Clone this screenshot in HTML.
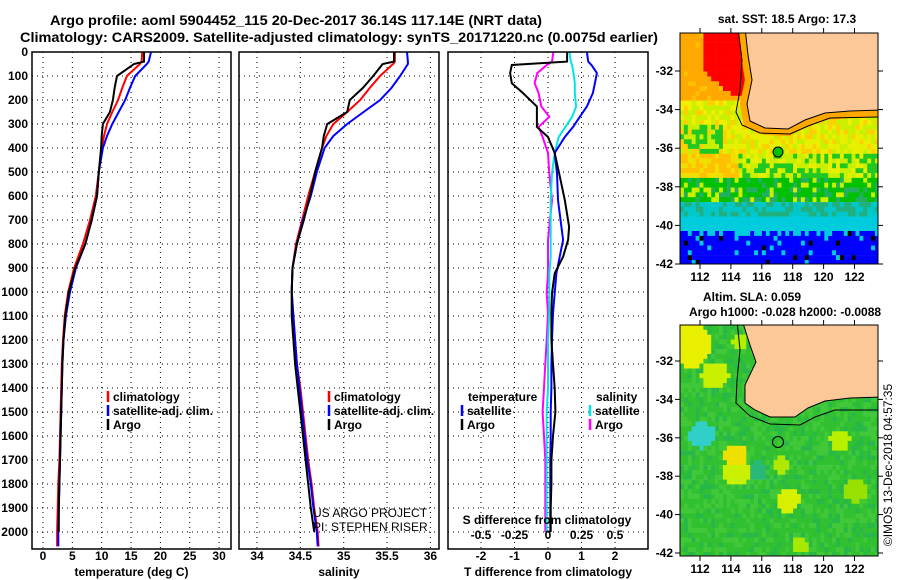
<!DOCTYPE html>
<html><head><meta charset="utf-8">
<style>
html,body{margin:0;padding:0;background:#fff;}
svg{display:block;font-family:"Liberation Sans",Arial,sans-serif;font-weight:bold;}
</style></head>
<body>
<svg id="fig" width="900" height="580" viewBox="0 0 900 580">
<defs>
<clipPath id="c1"><rect x="32" y="52" width="199" height="497"/></clipPath>
<clipPath id="c2"><rect x="239" y="52" width="200" height="497"/></clipPath>
<clipPath id="c3"><rect x="448" y="52" width="200" height="497"/></clipPath>
<clipPath id="cm1"><rect x="680" y="33" width="198" height="231"/></clipPath>
<clipPath id="cm2"><rect x="680" y="325" width="198" height="231"/></clipPath>
</defs>
<text x="296" y="25" font-size="14" text-anchor="middle" textLength="492" lengthAdjust="spacingAndGlyphs">Argo profile: aoml 5904452_115 20-Dec-2017 36.14S 117.14E (NRT data)</text>
<text x="339" y="42" font-size="14" text-anchor="middle" textLength="638" lengthAdjust="spacingAndGlyphs">Climatology: CARS2009. Satellite-adjusted climatology: synTS_20171220.nc (0.0075d earlier)</text>
<g id="panels"></g>
<g id="maps"></g>
<text transform="translate(892,465) rotate(-90)" font-size="12" font-weight="normal" text-anchor="middle">©IMOS 13-Dec-2018 04:57:35</text>
</svg>
<script>
// ---------- data ----------
const depths = [0,40,50,100,150,200,250,300,350,400,500,600,700,800,900,1000,1100,1200,1300,1400,1500,1600,1700,1800,1900,2000,2060];
const tempArgo = [17.2,17.2,15.5,12.6,12.2,11.9,11.4,10.2,10.0,9.9,9.5,9.2,8.3,7.2,5.5,4.4,3.8,3.5,3.3,3.2,3.1,3.0,2.9,2.8,2.7,2.7,2.6];
const tempClim = [16.9,16.8,16.5,14.3,13.5,12.8,11.8,10.9,10.4,10.0,9.5,9.0,8.0,6.8,5.3,4.3,3.7,3.4,3.2,3.1,3.0,2.9,2.8,2.6,2.5,2.4,2.4];
const tempSat = [18.4,18.0,17.7,15.7,14.8,14.0,12.9,11.8,10.9,10.2,9.5,9.2,8.3,7.2,5.6,4.6,3.9,3.5,3.3,3.2,3.1,3.0,2.9,2.8,2.7,2.6,2.6];
const salArgo = [35.58,35.58,35.45,35.34,35.22,35.07,35.04,34.81,34.77,34.75,34.67,34.61,34.54,34.46,34.41,34.40,34.40,34.42,34.44,34.47,34.50,34.53,34.56,34.59,34.62,34.66,34.68];
const salClim = [35.59,35.59,35.57,35.42,35.30,35.19,35.04,34.88,34.80,34.75,34.67,34.59,34.52,34.45,34.41,34.40,34.42,34.44,34.46,34.50,34.53,34.56,34.59,34.63,34.66,34.70,34.71];
const salSat = [35.73,35.74,35.74,35.65,35.55,35.42,35.23,35.04,34.88,34.78,34.69,34.62,34.53,34.46,34.41,34.40,34.42,34.44,34.46,34.49,34.52,34.55,34.58,34.62,34.65,34.69,34.70];
const diffDepths = [0,40,54,88,130,171,227,270,312,354,421,505,617,728,783,853,922,1005,1088,1200,1300,1400,1500,1600,1700,1800,1900,2000];
const tDiffArgo = [0.57,0.57,-1.08,-1.13,-1.08,-0.75,-0.33,-0.33,-0.33,0.0,0.2,0.33,0.5,0.63,0.6,0.45,0.2,0.12,0.1,0.1,0.15,0.2,0.22,0.15,0.1,0.1,0.08,0.08];
const tDiffSat = [1.16,1.2,1.3,1.46,1.4,1.34,1.16,0.95,0.75,0.5,0.2,0.27,0.3,0.4,0.45,0.35,0.25,0.2,0.15,0.12,0.1,0.1,0.08,0.08,0.07,0.07,0.07,0.07];
const sDiffSat = [0.16,0.17,0.18,0.19,0.2,0.2,0.21,0.18,0.13,0.08,0.05,0.03,0.02,0.02,0.02,0.02,0.01,0.01,0.01,0.0,0.0,0.0,-0.01,-0.01,-0.01,-0.01,-0.01,-0.01];
const sDiffArgo = [0.04,0.03,-0.01,-0.08,-0.10,-0.07,-0.05,0.01,-0.07,-0.04,0.0,0.01,0.03,0.01,0.0,0.0,0.0,-0.01,0.0,-0.01,-0.02,-0.03,-0.04,-0.03,-0.02,-0.02,-0.02,-0.02];
const depthTicks = [0,100,200,300,400,500,600,700,800,900,1000,1100,1200,1300,1400,1500,1600,1700,1800,1900,2000];
const tempTicks = [0,5,10,15,20,25,30];
const salTicks = [34,34.5,35,35.5,36];
const tDiffTicks = [-2,-1,0,1,2];
const sDiffTicks = [-0.5,-0.25,0,0.25,0.5];

// ---------- helpers ----------
const NS = "http://www.w3.org/2000/svg";
function mk(tag, attrs, parent){const e=document.createElementNS(NS,tag);for(const k in attrs)e.setAttribute(k,attrs[k]);parent.appendChild(e);return e;}
const yD = d => 52 + d*0.24;
const xT = t => 43 + t*5.87;
const xS = s => 257 + (s-34)*86.7;
const xTD = t => 548 + t*33.5;
const xSD = s => 548 + s*134;
const panels = document.getElementById('panels');

function panel(x0,w,clip,xf,ticks,tickLabels,title,name){
  const g = mk('g',{},panels);
  
  
  const grid = mk('g',{stroke:'#000','stroke-width':1,'stroke-dasharray':'1,4'},g);
  depthTicks.forEach(d=>{ if(d>0) mk('line',{x1:x0,x2:x0+w,y1:yD(d),y2:yD(d)},grid); });
  ticks.forEach(t=>{ mk('line',{x1:xf(t),x2:xf(t),y1:52,y2:549},grid); });
  ticks.forEach((t,i)=>{
    const tx = mk('text',{x:xf(t),y:560,'font-size':12,'text-anchor':'middle'},g);
    tx.textContent = tickLabels[i];
  });
  const tt = mk('text',{x:x0+w/2,y:576,'font-size':12,'text-anchor':'middle'},g);
  tt.textContent = title;
  return g;
}
function line(g,xs,ds,xf,color,clip,name,wd){
  const p = mk('polyline',{points:xs.map((v,i)=>xf(v).toFixed(1)+','+yD(ds[i]).toFixed(1)).join(' '),fill:'none',stroke:color,'stroke-width':wd||2,'clip-path':'url(#'+clip+')'},g);
  
  
}
function frame(g,x0,w){ mk('rect',{x:x0,y:52,width:w,height:497,fill:'none',stroke:'#000','stroke-width':1.5},g); }
function legend(g,x,y,color,label,name){
  mk('line',{x1:x,x2:x,y1:y-6,y2:y+5,stroke:color,'stroke-width':2.5},g);
  const t = mk('text',{x:x+5,y:y+4,'font-size':12},g);
  t.textContent = label;
  
  
}

depthTicks.forEach(d=>{
  const t = mk('text',{x:28,y:yD(d)+4,'font-size':12,'text-anchor':'end'},panels);
  t.textContent = d;
});

const g1 = panel(32,199,'c1',xT,tempTicks,tempTicks.map(String),'temperature (deg C)','temperature-panel');
line(g1,tempClim,depths,xT,'#ff0000','c1','temp-climatology-line');
line(g1,tempSat,depths,xT,'#0000ff','c1','temp-satellite-line');
line(g1,tempArgo.slice(0,26),depths.slice(0,26),xT,'#000','c1','temp-argo-line');
frame(g1,32,199);
legend(g1,108,397,'#ff0000','climatology','legend-climatology');
legend(g1,108,411,'#0000ff','satellite-adj. clim.','legend-satellite');
legend(g1,108,425,'#000','Argo','legend-argo');

const g2 = panel(239,200,'c2',xS,salTicks,salTicks.map(String),'salinity','salinity-panel');
line(g2,salClim,depths,xS,'#ff0000','c2','sal-climatology-line');
line(g2,salSat,depths,xS,'#0000ff','c2','sal-satellite-line');
line(g2,salArgo.slice(0,26),depths.slice(0,26),xS,'#000','c2','sal-argo-line');
frame(g2,239,200);
legend(g2,329,397,'#ff0000','climatology','legend-sal-climatology');
legend(g2,329,411,'#0000ff','satellite-adj. clim.','legend-sal-satellite');
legend(g2,329,425,'#000','Argo','legend-sal-argo');
const cr = mk('g',{'clip-path':'url(#c2)','font-weight':'normal','font-size':12},g2);
const cr1 = mk('text',{x:313,y:517},cr); cr1.textContent='US ARGO PROJECT';
const cr2 = mk('text',{x:313,y:531},cr); cr2.textContent='PI: STEPHEN RISER';

const g3 = panel(448,200,'c3',xTD,tDiffTicks,tDiffTicks.map(String),'T difference from climatology','difference-panel');
line(g3,sDiffArgo,diffDepths,xSD,'#ff00ff','c3','sdiff-argo-line');
line(g3,sDiffSat,diffDepths,xSD,'#00e5e5','c3','sdiff-satellite-line');
line(g3,tDiffSat,diffDepths,xTD,'#0000ff','c3','tdiff-satellite-line');
line(g3,tDiffArgo,diffDepths,xTD,'#000','c3','tdiff-argo-line');
frame(g3,448,200);
const lt = mk('text',{x:468,y:401,'font-size':12},g3); lt.textContent='temperature';
const ls = mk('text',{x:596,y:401,'font-size':12},g3); ls.textContent='salinity';
legend(g3,462,411,'#0000ff','satellite','legend-tdiff-satellite');
legend(g3,462,425,'#000','Argo','legend-tdiff-argo');
legend(g3,590,411,'#00e5e5','satellite','legend-sdiff-satellite');
legend(g3,590,425,'#ff00ff','Argo','legend-sdiff-argo');
const sdt = mk('text',{x:547,y:524,'font-size':12,'text-anchor':'middle'},g3); sdt.textContent='S difference from climatology';
sDiffTicks.forEach(s=>{ const t=mk('text',{x:xSD(s),y:539,'font-size':12,'text-anchor':'middle'},g3); t.textContent=String(s); });

// ---------- maps ----------
const maps = document.getElementById('maps');
const lonX = lon => 700 + (lon-112)*15.45;
const latY1 = lat => 71 + (-32-lat)*19.3;
const latY2 = lat => 361 + (-32-lat)*19.2;
function hash(i,j){let h=(i*374761393+j*668265263)^0x5bd1e995;h=(h^(h>>>13))*1274126177;return ((h^(h>>>16))>>>0)/4294967296;}

function sstColor(x,y,r){
  if(y<92 && x>703+ (y>70?(y-70)*1.2:0) ) return '#ff0000';
  if(y<100) return r<0.15?'#ffc000':'#ffa800';
  if(y<120) return r<0.3?'#f0f000':(r<0.55?'#ffd000':'#c8f000');
  if(y<150){ if(x<720&&r<0.5) return '#22c822'; return r<0.5?'#e8f000':(r<0.75?'#c8f000':'#ffd000'); }
  if(y<175){ if(x<735) return r<0.6?'#ffc000':'#f0e000'; return r<0.4?'#22c822':(r<0.75?'#c8f000':'#e8f000'); }
  if(y<200) return r<0.55?'#00c000':(r<0.8?'#22b060':'#c8f000');
  if(y<214) return r<0.5?'#20b080':'#00c8c8';
  if(y<226+ (r*8)) return '#00ccdd';
  return r<0.04?'#000000':(r<0.12?'#00ccdd':'#0000ff');
}
const m1 = mk('g',{'clip-path':'url(#cm1)'},maps);


for(let j=0;j<48;j++){for(let i=0;i<51;i++){
  const x=680+i*3.9, y=33+j*4.83;
  mk('rect',{x:x.toFixed(1),y:y.toFixed(1),width:4.2,height:5.1,fill:sstColor(x,y,hash(i,j))},m1);
}}
const land1 = "M745,28 L880,28 L880,110 L850,111 L825,113 L805,120 L788,129 L765,128 L750,121 L747,104 L752,80 L748,55 Z";
mk('path',{d:land1,fill:'#ffa800',stroke:'#ffa800','stroke-width':14,'stroke-linejoin':'round'},m1);
mk('path',{d:"M738,28 L742,60 L740,90 L736,112 L742,125 L760,133 L790,134 L808,126 L830,118 L880,117",fill:'none',stroke:'#000','stroke-width':1},m1);
mk('path',{d:land1,fill:'#fdc898',stroke:'#000','stroke-width':1},m1);
const dot1 = mk('circle',{cx:778,cy:152,r:5,fill:'#00c000',stroke:'#000','stroke-width':1},m1);


mk('rect',{x:680,y:33,width:198,height:231,fill:'none',stroke:'#000','stroke-width':1},maps);

function slaColor(x,y,r){
  const blobs=[[690,345,22,'#e8f000'],[715,375,14,'#c8f000'],[702,435,13,'#30d0c8'],[735,455,12,'#f0e000'],[738,472,14,'#c8f000'],[758,470,9,'#28b878'],[788,500,12,'#d8f000'],[800,545,8,'#a8e800'],[840,440,10,'#b8f000'],[855,490,12,'#98e000'],[760,400,6,'#20b040'],[782,465,8,'#b0e800'],[740,340,8,'#b0f000']];
  for(const b of blobs){const dx=x-b[0],dy=y-b[1];if(dx*dx+dy*dy<b[2]*b[2]) return b[3];}
  return r<0.5?'#30c030':(r<0.8?'#40c838':'#28b848');
}
const m2 = mk('g',{'clip-path':'url(#cm2)'},maps);


for(let j=0;j<48;j++){for(let i=0;i<51;i++){
  const x=680+i*3.9, y=325+j*4.83;
  mk('rect',{x:x.toFixed(1),y:y.toFixed(1),width:4.2,height:5.1,fill:slaColor(x+2,y+2,hash(i+7,j+3))},m2);
}}
const land2 = "M742,320 L880,320 L880,397 L850,398 L825,401 L808,408 L795,417 L770,417 L755,410 L745,403 L745,385 L756,362 L750,345 Z";
mk('path',{d:"M737,320 L740,350 L737,380 L736,403 L750,416 L770,424 L800,425 L815,417 L835,410 L880,410",fill:'none',stroke:'#000','stroke-width':1},m2);
mk('path',{d:land2,fill:'#fdc898',stroke:'#000','stroke-width':1},m2);
const dot2 = mk('circle',{cx:778,cy:442,r:5.5,fill:'none',stroke:'#000','stroke-width':1},m2);


mk('rect',{x:680,y:325,width:198,height:231,fill:'none',stroke:'#000','stroke-width':1},maps);

const lonTicks=[112,114,116,118,120,122];
const latTicks=[-32,-34,-36,-38,-40,-42];
[[33,264,latY1],[325,556,latY2]].forEach(([top,bot,ly])=>{
  lonTicks.forEach(l=>{
    mk('line',{x1:lonX(l),x2:lonX(l),y1:top,y2:top-5,stroke:'#000'},maps);
    mk('line',{x1:lonX(l),x2:lonX(l),y1:bot,y2:bot+5,stroke:'#000'},maps);
    const t=mk('text',{x:lonX(l),y:bot+17,'font-size':12,'text-anchor':'middle'},maps); t.textContent=l;
  });
  latTicks.forEach(l=>{
    mk('line',{x1:675,x2:680,y1:ly(l),y2:ly(l),stroke:'#000'},maps);
    mk('line',{x1:878,x2:883,y1:ly(l),y2:ly(l),stroke:'#000'},maps);
    const t=mk('text',{x:673,y:ly(l)+4,'font-size':12,'text-anchor':'end'},maps); t.textContent=l;
  });
});
const mt1=mk('text',{x:787,y:23,'font-size':12,'text-anchor':'middle'},maps); mt1.textContent='sat. SST: 18.5 Argo: 17.3';


const mt2=mk('text',{x:752,y:301,'font-size':12,'text-anchor':'middle'},maps); mt2.textContent='Altim. SLA: 0.059';


const mt3=mk('text',{x:785,y:316,'font-size':12,'text-anchor':'middle'},maps); mt3.textContent='Argo h1000: -0.028 h2000: -0.0088';


</script>
</body></html>
